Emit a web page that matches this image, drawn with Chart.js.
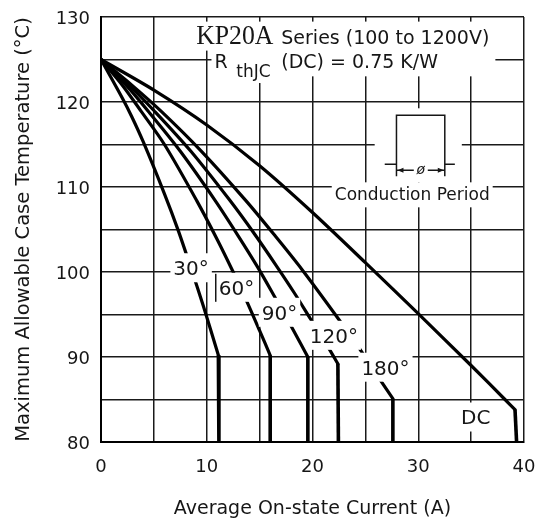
<!DOCTYPE html>
<html>
<head>
<meta charset="utf-8">
<script src="https://cdn.jsdelivr.net/npm/chart.js@4.4.0/dist/chart.umd.min.js"></script>
<style>
  html, body { margin: 0; padding: 0; background: #fff; }
  canvas { display: block; }
</style>
</head>
<body>
<canvas id="graphe" width="547" height="521"></canvas>
<script>
// courbes (courant moyen en A, temperature de boitier en degC)
const current30 = [0, 2, 2.9, 4, 6, 7.3, 8.5, 9.7, 11.1, 11.15];
const temp30 = [125, 120.5, 118.3, 115.3, 109.2, 104.9, 100.5, 95.9, 90.2, 80];

const current60 = [0, 2, 3.8, 6, 9.05, 11, 12.5, 13.66, 15, 16.0, 16.0];
const temp60 = [125, 122.0, 118.9, 115.0, 108.4, 103.8, 100.0, 96.9, 93.1, 90.2, 80];

const current90 = [0, 2.5, 4.6, 7.5, 10.8, 13, 14.8, 16.55, 18.0, 19.56, 19.56];
const temp90 = [125, 121.8, 118.7, 114.2, 108.4, 104.2, 100.6, 96.8, 93.6, 90.0, 80];

const current120 = [0, 2.5, 5.0, 8.5, 12.2, 14.5, 16.6, 18.3, 19.8, 21.46, 22.4, 22.45];
const temp120 = [125, 122.2, 119.0, 114.2, 108.4, 104.5, 100.7, 97.5, 94.5, 91.2, 89.2, 80];

const current180 = [0, 3, 5.7, 9.5, 13.7, 16.5, 19.0, 22.56, 24.77, 26.35, 27.6, 27.6];
const temp180 = [125, 121.9, 118.9, 114.2, 108.4, 104.2, 100.3, 94.3, 90.4, 87.4, 85.1, 80];

const currentDC = [0, 5, 10, 15, 20, 25, 30, 35, 38.2, 39.15, 39.3];
const tempDC = [125, 121.4, 117.3, 112.5, 107.0, 101.1, 95.1, 89.0, 85.0, 83.8, 80];

// etiquettes des courbes
const labelText = ['30°', '60°', '90°', '120°', '180°', 'DC'];
const labelX = [8.52, 12.81, 16.88, 22.02, 26.9, 35.43];
const labelY = [100.5, 98.2, 95.26, 92.55, 88.8, 82.94];

const xTicks = [0, 10, 20, 30, 40];
const yTicks = [80, 90, 100, 110, 120, 130];

const ink = '#161616';
const sans = '"DejaVu Sans", sans-serif';

function courbe(xs, ys) {
	var n = xs.length;
	var haut = [];
	for (var i = 0; i < n - 1; i++) {
		haut.push({ x: xs[i], y: ys[i] });
	}
	var bas = [{ x: xs[n - 2], y: ys[n - 2] }, { x: xs[n - 1], y: ys[n - 1] }];
	return [
		{ data: haut, showLine: true, tension: 0.3, borderWidth: 3.2, borderColor: '#000', pointRadius: 0, borderCapStyle: 'round', borderJoinStyle: 'round' },
		{ data: bas, showLine: true, tension: 0, borderWidth: 3.6, borderColor: '#000', pointRadius: 0, borderCapStyle: 'butt' }
	];
}

var datasets = [].concat(
	courbe(current30, temp30),
	courbe(current60, temp60),
	courbe(current90, temp90),
	courbe(current120, temp120),
	courbe(current180, temp180),
	courbe(currentDC, tempDC)
);

const decor = {
	id: 'decor',
	afterDatasetsDraw(chart) {
		const ctx = chart.ctx;
		const sx = chart.scales.x, sy = chart.scales.y;
		const px = v => sx.getPixelForValue(v);
		const py = v => sy.getPixelForValue(v);
		ctx.save();

		// etiquettes des angles
		ctx.font = '20px ' + sans;
		ctx.textAlign = 'center';
		ctx.textBaseline = 'alphabetic';
		labelText.forEach(function (t, i) {
			var cx = px(labelX[i]), cy = py(labelY[i]);
			var w = ctx.measureText(t).width + 6, h = 29;
			ctx.fillStyle = '#fff';
			ctx.fillRect(cx - w / 2, cy - h / 2, w, h);
			ctx.fillStyle = ink;
			ctx.fillText(t, cx, cy + 7.3);
			if (t == '60°') {
				ctx.strokeStyle = ink;
				ctx.lineWidth = 1.5;
				ctx.beginPath();
				ctx.moveTo(cx - w / 2, cy - h / 2 + 1);
				ctx.lineTo(cx - w / 2, cy + h / 2);
				ctx.stroke();
			}
		});

		// titre en haut
		ctx.textAlign = 'left';
		var kpLeft = px(9.0), base1 = py(126.87);
		var seriesLeft = px(17.05);
		ctx.font = '19px ' + sans;
		var seriesW = ctx.measureText('Series (100 to 1200V)').width;
		var boxRight = seriesLeft + seriesW + 6;
		var rLeft = px(10.73), base2 = py(123.96);
		var subLeft = px(12.79), subBase = py(122.94);
		ctx.font = '17px ' + sans;
		var subW = ctx.measureText('thJC').width;

		ctx.fillStyle = '#fff';
		ctx.fillRect(kpLeft - 4, base1 - 22, boxRight - kpLeft + 4, 29);
		ctx.fillRect(rLeft - 3, base1 + 6, boxRight - rLeft + 3, base2 - base1 + 2);
		ctx.fillRect(subLeft - 2, base2 + 6, subW + 4, subBase - base2 + 0);

		ctx.fillStyle = ink;
		ctx.save();
		ctx.translate(kpLeft, base1);
		ctx.scale(0.92, 1);
		ctx.font = '28px "Liberation Serif", serif';
		ctx.fillText('KP20A', 0, 0);
		ctx.restore();
		ctx.font = '19px ' + sans;
		ctx.fillText('Series (100 to 1200V)', seriesLeft, base1);
		ctx.fillText('R', rLeft, base2);
		ctx.fillText('(DC) = 0.75 K/W', px(17.05), base2);
		ctx.font = '17px ' + sans;
		ctx.fillText('thJC', subLeft, subBase);

		// encart periode de conduction
		var pl = px(27.94), pr = px(32.51), pt = py(118.44), pb = py(112.67);
		var sideBottom = py(111.26), arrowY = py(111.96);
		ctx.fillStyle = '#fff';
		ctx.fillRect(px(25.88), py(119.26), px(34.12) - px(25.88), py(110.55) - py(119.26));
		var cpX = px(29.43), cpY = py(109.26);
		ctx.font = '17px ' + sans;
		var cpW = ctx.measureText('Conduction Period').width;
		ctx.fillRect(cpX - cpW / 2 - 3, py(110.55), cpW + 6, 25);

		ctx.strokeStyle = ink;
		ctx.lineWidth = 1.5;
		ctx.beginPath();
		ctx.moveTo(px(26.83), pb);
		ctx.lineTo(pl, pb);
		ctx.moveTo(pl, sideBottom);
		ctx.lineTo(pl, pt);
		ctx.lineTo(pr, pt);
		ctx.lineTo(pr, sideBottom);
		ctx.moveTo(pr, pb);
		ctx.lineTo(px(33.46), pb);
		var phi = px(30.24);
		ctx.moveTo(pl, arrowY);
		ctx.lineTo(phi - 7, arrowY);
		ctx.moveTo(phi + 7, arrowY);
		ctx.lineTo(pr, arrowY);
		ctx.stroke();
		ctx.fillStyle = ink;
		ctx.beginPath();
		ctx.moveTo(pl + 1, arrowY);
		ctx.lineTo(pl + 7, arrowY - 2.5);
		ctx.lineTo(pl + 7, arrowY + 2.5);
		ctx.closePath();
		ctx.moveTo(pr - 1, arrowY);
		ctx.lineTo(pr - 7, arrowY - 2.5);
		ctx.lineTo(pr - 7, arrowY + 2.5);
		ctx.closePath();
		ctx.fill();
		ctx.textAlign = 'center';
		ctx.textBaseline = 'middle';
		ctx.font = 'italic 14px ' + sans;
		ctx.fillText('ø', phi, arrowY);

		ctx.font = '17px ' + sans;
		ctx.textBaseline = 'alphabetic';
		ctx.fillText('Conduction Period', cpX, cpY + 6.5);

		ctx.restore();
	}
};

new Chart(document.getElementById('graphe'), {
	type: 'scatter',
	data: { datasets: datasets },
	options: {
		responsive: false,
		animation: false,
		events: [],
		layout: { padding: { top: 17, right: 23, left: 0, bottom: 0 } },
		plugins: {
			legend: { display: false },
			tooltip: { enabled: false }
		},
		scales: {
			x: {
				type: 'linear',
				min: 0,
				max: 40,
				afterFit: function (axis) {
					axis.height = 79;
					axis.paddingLeft = 0;
					axis.paddingRight = 0;
				},
				afterBuildTicks: function (axis) {
					axis.ticks = [];
					for (var v = 0; v <= 40; v += 5) axis.ticks.push({ value: v });
				},
				ticks: {
					autoSkip: false,
					maxRotation: 0,
					padding: 15,
					color: ink,
					font: { family: sans, size: 18 },
					callback: function (v) { return xTicks.indexOf(v) >= 0 ? String(v) : ''; }
				},
				grid: { color: '#1a1a1a', lineWidth: 1.5, drawTicks: false },
				border: { color: '#000', width: 2 },
				title: {
					display: true,
					text: 'Average On-state Current (A)',
					color: ink,
					font: { family: sans, size: 19 },
					padding: { top: 0, bottom: 1 }
				}
			},
			y: {
				type: 'linear',
				min: 80,
				max: 130,
				afterFit: function (axis) {
					axis.width = 101;
					axis.paddingTop = 0;
					axis.paddingBottom = 0;
				},
				afterBuildTicks: function (axis) {
					axis.ticks = [];
					for (var v = 80; v <= 130; v += 5) axis.ticks.push({ value: v });
				},
				ticks: {
					autoSkip: false,
					padding: 11,
					labelOffset: 2.5,
					color: ink,
					font: { family: sans, size: 18 },
					callback: function (v) { return yTicks.indexOf(v) >= 0 ? String(v) : ''; }
				},
				grid: { color: '#1a1a1a', lineWidth: 1.5, drawTicks: false },
				border: { color: '#000', width: 2 },
				title: {
					display: true,
					text: 'Maximum Allowable Case Temperature (°C)',
					color: ink,
					font: { family: sans, size: 19.5 },
					padding: { top: 12, bottom: 0 }
				}
			}
		}
	},
	plugins: [decor]
});
</script>
</body>
</html>
